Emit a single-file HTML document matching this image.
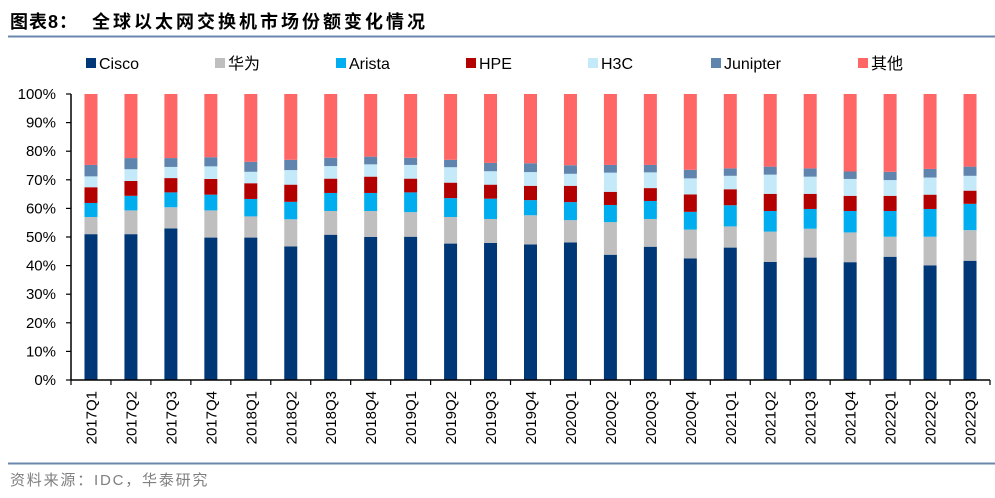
<!DOCTYPE html>
<html><head><meta charset="utf-8"><style>
body{margin:0;background:#fff;width:995px;height:493px;overflow:hidden;font-family:"Liberation Sans","Noto Sans CJK SC",sans-serif}
</style></head><body>
<svg width="995" height="493" viewBox="0 0 995 493" xmlns="http://www.w3.org/2000/svg">
<text x="10" y="28" font-size="18" font-weight="bold" fill="#000" letter-spacing="1" font-family="'Liberation Sans','Noto Sans CJK SC',sans-serif">图表8：</text>
<text x="92" y="28" font-size="18" font-weight="bold" fill="#000" letter-spacing="3" font-family="'Liberation Sans','Noto Sans CJK SC',sans-serif">全球以太网交换机市场份额变化情况</text>
<line x1="8" y1="36.5" x2="995" y2="36.5" stroke="#6b87ae" stroke-width="2"/>
<g id="legend"></g>
<g id="plot"></g>
<line x1="8" y1="463.5" x2="995" y2="463.5" stroke="#6b87ae" stroke-width="2"/>
<text x="10" y="485" font-size="15" fill="#7f7f7f" letter-spacing="1.8" font-family="'Liberation Sans','Noto Sans CJK SC',sans-serif">资料来源：IDC，华泰研究</text>
</svg>
<script>
const categories=["2017Q1","2017Q2","2017Q3","2017Q4","2018Q1","2018Q2","2018Q3","2018Q4","2019Q1","2019Q2","2019Q3","2019Q4","2020Q1","2020Q2","2020Q3","2020Q4","2021Q1","2021Q2","2021Q3","2021Q4","2022Q1","2022Q2","2022Q3"];
const cisco=[51.0,51.0,53.0,49.8,49.8,46.7,50.8,50.0,50.1,47.7,47.9,47.4,48.1,43.8,46.6,42.5,46.3,41.3,42.8,41.2,43.1,40.1,41.7];
const huawei=[6.0,8.3,7.4,9.5,7.4,9.5,8.3,9.1,8.6,9.3,8.4,10.2,7.8,11.4,9.7,10.1,7.4,10.6,10.1,10.4,7.0,10.0,10.7];
const arista=[4.9,5.1,5.2,5.5,6.1,6.1,6.3,6.3,6.9,6.6,7.1,5.3,6.3,6.0,6.3,6.2,7.4,7.2,6.9,7.5,9.0,9.7,9.2];
const hpe=[5.5,5.2,5.0,5.5,5.5,6.0,5.0,5.7,4.8,5.4,4.9,5.0,5.7,4.6,4.5,6.1,5.6,6.0,5.3,5.3,5.3,5.0,4.6];
const h3c=[3.8,4.1,3.9,4.4,4.0,5.1,4.4,4.3,4.8,5.4,4.7,4.8,4.2,6.7,5.5,5.6,4.7,6.7,6.0,5.9,5.5,6.0,5.2];
const juniper=[4.0,3.9,3.1,3.2,3.5,3.6,2.9,2.7,2.5,2.6,2.9,3.1,3.0,2.7,2.6,3.0,2.6,2.8,2.9,2.6,2.9,3.0,3.2];
const yTicks=[0,10,20,30,40,50,60,70,80,90,100];
const seriesNames=["Cisco","华为","Arista","HPE","H3C","Junipter","其他"];
const other=categories.map((c,i)=>100-cisco[i]-huawei[i]-arista[i]-hpe[i]-h3c[i]-juniper[i]);
const series=[cisco,huawei,arista,hpe,h3c,juniper,other];
const colors=["#003777","#bfbfbf","#00aeef","#b30000","#c4eafa","#5f84ad","#ff6666"];
const slugs=["cisco","huawei","arista","hpe","h3c","juniper","other"];
const NS="http://www.w3.org/2000/svg";
const X0=71,X1=990,Y0=380,Y1=94;
const bw=(X1-X0)/categories.length;
const xc=i=>X0+bw*(i+0.5);
const y=v=>Y0-(v/100)*(Y0-Y1);
function mk(t,a,p){const e=document.createElementNS(NS,t);for(const k in a)e.setAttribute(k,a[k]);p.appendChild(e);return e;}
const plot=document.getElementById('plot');
categories.forEach((c,i)=>{let cum=0;
 series.forEach((s,k)=>{const v=s[i];
  const r=mk('rect',{x:xc(i)-6.5,y:y(cum+v),width:13,height:y(cum)-y(cum+v),fill:colors[k]},plot);
  
  
  cum+=v;});
});
const ya=mk('line',{x1:X0,y1:Y1,x2:X0,y2:Y0,stroke:'#000','stroke-width':1.5},plot);


yTicks.forEach(t=>{
 const tk=mk('line',{x1:X0-5,y1:y(t),x2:X0,y2:y(t),stroke:'#000','stroke-width':1.2},plot);
 
 
 const tx=mk('text',{x:X0-15,y:y(t)+5,'font-size':15,'text-anchor':'end',fill:'#000'},plot);
 tx.textContent=t+'%';
 
 
});
const xa=mk('line',{x1:X0,y1:Y0,x2:X1,y2:Y0,stroke:'#000','stroke-width':1.5},plot);


for(let i=0;i<=categories.length;i++){
 const tk=mk('line',{x1:X0+bw*i,y1:Y0,x2:X0+bw*i,y2:Y0+5,stroke:'#000','stroke-width':1.2},plot);
 
 
}
categories.forEach((c,i)=>{
 const tx=mk('text',{x:0,y:0,'font-size':15,'text-anchor':'end',fill:'#000',transform:`translate(${xc(i)+5.5},391) rotate(-90)`},plot);
 tx.textContent=c;
 
 
});
const lg=document.getElementById('legend');
const lx=[86,215,336,466,588,711,858];
seriesNames.forEach((n,k)=>{
 const r=mk('rect',{x:lx[k],y:58,width:10,height:10,fill:colors[k]},lg);
 
 
 const t=mk('text',{x:lx[k]+13,y:69,'font-size':16,fill:'#000'},lg);
 t.textContent=n;
 
 
});
</script>
</body></html>
